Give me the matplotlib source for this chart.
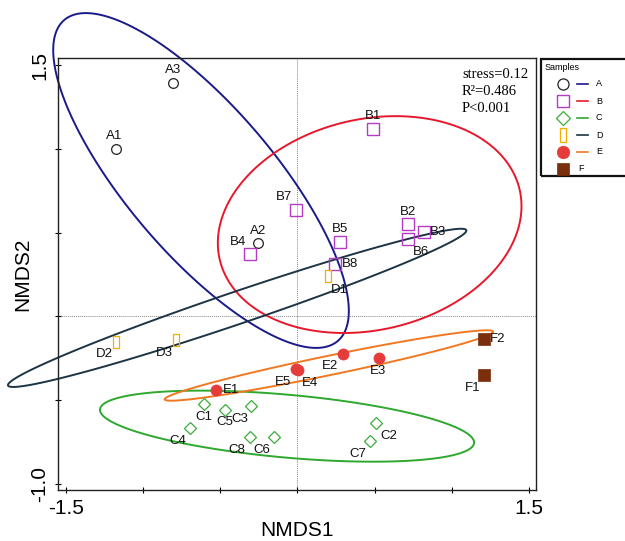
import numpy as np
import matplotlib
matplotlib.use("Agg")
import matplotlib.pyplot as plt
from matplotlib.path import Path
from matplotlib.patches import Polygon

plt.rcParams['font.family'] = ['Liberation Sans', 'DejaVu Sans']

# ---------------- data ----------------
A_labels = ['A1', 'A2', 'A3']
A_x = [-1.176, -0.257, -0.807]
A_y = [0.997, 0.438, 1.392]

B_labels = ['B1', 'B2', 'B3', 'B4', 'B5', 'B6', 'B7', 'B8']
B_x = [0.488, 0.716, 0.820, -0.307, 0.274, 0.716, -0.006, 0.244]
B_y = [1.118, 0.551, 0.505, 0.372, 0.446, 0.462, 0.633, 0.311]

C_labels = ['C1', 'C2', 'C3', 'C4', 'C5', 'C6', 'C7', 'C8']
C_x = [-0.605, 0.509, -0.298, -0.698, -0.471, -0.149, 0.473, -0.307]
C_y = [-0.525, -0.638, -0.535, -0.668, -0.559, -0.722, -0.745, -0.722]

D_labels = ['D1', 'D2', 'D3']
D_x = [0.196, -1.175, -0.784]
D_y = [0.239, -0.155, -0.143]

E_labels = ['E1', 'E2', 'E3', 'E4', 'E5']
E_x = [-0.529, 0.298, 0.529, 0.004, -0.010]
E_y = [-0.441, -0.226, -0.248, -0.322, -0.311]

F_labels = ['F1', 'F2']
F_x = [1.211, 1.209]
F_y = [-0.352, -0.137]

# confidence ellipses: centre x, centre y, half-width x, half-height y, correlation
A_ellipse = [-0.624, 0.811, 0.957, 0.999, -0.779]
B_ellipse = [0.468, 0.548, 0.983, 0.647, 0.17]
C_ellipse = [-0.067, -0.655, 1.211, 0.212, -0.46]
D_ellipse = [-0.390, 0.051, 1.484, 0.472, 0.9766]
E_ellipse = [0.204, -0.293, 1.063, 0.210, 0.960]

group_names = ['A', 'B', 'C', 'D', 'E', 'F']
stats_lines = ['stress=0.12', 'R\u00b2=0.486', 'P<0.001']
x_ticks = [-1.5, -1.0, -0.5, 0.0, 0.5, 1.0, 1.5]
x_ticklabels = ['-1.5', '', '', '', '', '', '1.5']
y_ticks = [-1.0, -0.5, 0.0, 0.5, 1.0, 1.5]
y_ticklabels = ['-1.0', '', '', '', '', '1.5']

# ---------------- styles ----------------
rect_marker = Path([(-0.22, -0.5), (0.22, -0.5), (0.22, 0.5), (-0.22, 0.5), (-0.22, -0.5)],
                   [Path.MOVETO, Path.LINETO, Path.LINETO, Path.LINETO, Path.CLOSEPOLY])

styles = {
    'A': dict(marker='o', ms=7, mfc='none', mec='#222222', mew=0.9, line='#1a1a8a'),
    'B': dict(marker='s', ms=8, mfc='none', mec='#b43cc4', mew=1.0, line='#e8182c'),
    'C': dict(marker='D', ms=6, mfc='none', mec='#3aae3a', mew=0.9, line='#2ea82e'),
    'D': dict(marker=rect_marker, ms=9, mfc='none', mec='#f5ae00', mew=0.9, line='#1c3444'),
    'E': dict(marker='o', ms=8, mfc='#e63b3b', mec='#e63b3b', mew=0.5, line='#f07820'),
    'F': dict(marker='s', ms=8, mfc='#7a2e0c', mec='#7a2e0c', mew=0.5, line=None),
}

# label offsets in pixels (dx, dy) screen up-positive
A_off = [(-2, 13), (0, 12), (0, 13)]
B_off = [(0, 13), (0, 12), (14, 0), (-12, 12), (0, 13), (13, -13), (-12, 13), (15, 0)]
C_off = [(0, -13), (13, -13), (-12, -13), (-12, -13), (0, -12), (-13, -13), (-13, -13), (-13, -13)]
D_off = [(12, -14), (-12, -12), (-12, -13)]
E_off = [(15, 0), (-13, -12), (-1, -13), (12, -13), (-13, -13)]
F_off = [(-12, -13), (14, 0)]

W, H = 625, 541
fig = plt.figure(figsize=(W / 100, H / 100), dpi=100)
ax = fig.add_axes([58 / W, 1 - 490 / H, (536 - 58) / W, (490 - 58) / H])
ax.set_xlim(-1.55, 1.545)
ax.set_ylim(-1.036, 1.542)

ax.axhline(0, color='#888888', lw=0.7, ls=(0, (1, 1)), zorder=0)
ax.axvline(0, color='#888888', lw=0.7, ls=(0, (1, 1)), zorder=0)

groups = {
    'A': (A_labels, A_x, A_y, A_off, A_ellipse),
    'B': (B_labels, B_x, B_y, B_off, B_ellipse),
    'C': (C_labels, C_x, C_y, C_off, C_ellipse),
    'D': (D_labels, D_x, D_y, D_off, D_ellipse),
    'E': (E_labels, E_x, E_y, E_off, E_ellipse),
    'F': (F_labels, F_x, F_y, F_off, None),
}

t = np.linspace(0, 2 * np.pi, 720, endpoint=False)
for g in group_names:
    labels, xs, ys, offs, ell = groups[g]
    st = styles[g]
    if ell is not None:
        cx, cy, sx, sy, rho = ell
        ex = cx + sx * np.cos(t)
        ey = cy + sy * (rho * np.cos(t) + np.sqrt(1 - rho ** 2) * np.sin(t))
        poly = Polygon(np.column_stack([ex, ey]), closed=True, fill=False, ec=st['line'],
                       lw=1.4, clip_on=False, zorder=2, joinstyle='round')
        ax.add_patch(poly)
    ax.plot(xs, ys, ls='none', marker=st['marker'], ms=st['ms'], mfc=st['mfc'],
            mec=st['mec'], mew=st['mew'], zorder=3, clip_on=False)
    for lab, x, y, (dx, dy) in zip(labels, xs, ys, offs):
        ax.annotate(lab, (x, y), xytext=(dx * 0.72, dy * 0.72), textcoords='offset points',
                    ha='center', va='center', fontsize=9.5, color='#111111', zorder=4)

ax.set_xticks(x_ticks)
ax.set_xticklabels(x_ticklabels, fontsize=15)
ax.set_yticks(y_ticks)
ax.set_yticklabels(y_ticklabels, fontsize=15, rotation=90, va='center')
ax.tick_params(direction='inout', length=5, width=0.8, pad=4)
ax.tick_params(axis='y', pad=4)
for s in ax.spines.values():
    s.set_linewidth(1.0)
    s.set_color('#222222')
ax.set_xlabel('NMDS1', fontsize=15, labelpad=2)
ax.set_ylabel('NMDS2', fontsize=15, labelpad=-2)

for i, line in enumerate(stats_lines):
    fig.text(462 / W, 1 - (75 + 16.5 * i) / H, line, fontsize=10.5, family='Liberation Serif',
             ha='left', va='center')

# ---------------- legend box ----------------
def fx(px):
    return px / W

def fy(py):
    return 1 - py / H

fig.patches.append(plt.Rectangle((fx(541), fy(176)), fx(700) - fx(541), fy(59) - fy(176),
                                 transform=fig.transFigure, fill=False, ec='#111111', lw=1.6))
fig.text(fx(545), fy(67), 'Samples', fontsize=6.5, ha='left', va='center')
row_y = [83.5, 101, 118, 135, 152, 168.5]
for g, ry in zip(group_names, row_y):
    st = styles[g]
    fig.add_artist(matplotlib.lines.Line2D([fx(563.3)], [fy(ry)], ls='none', marker=st['marker'],
                                           ms=st['ms'] + 1, mfc=st['mfc'], mec=st['mec'], mew=st['mew'],
                                           transform=fig.transFigure))
    if st['line'] is not None:
        fig.add_artist(matplotlib.lines.Line2D([fx(577), fx(588)], [fy(ry), fy(ry)], color=st['line'],
                                               lw=1.2, transform=fig.transFigure))
        fig.text(fx(596), fy(ry), g, fontsize=6.5, ha='left', va='center')
    else:
        fig.text(fx(578), fy(ry), g, fontsize=6.5, ha='left', va='center')

fig.savefig('out.png', dpi=100)
